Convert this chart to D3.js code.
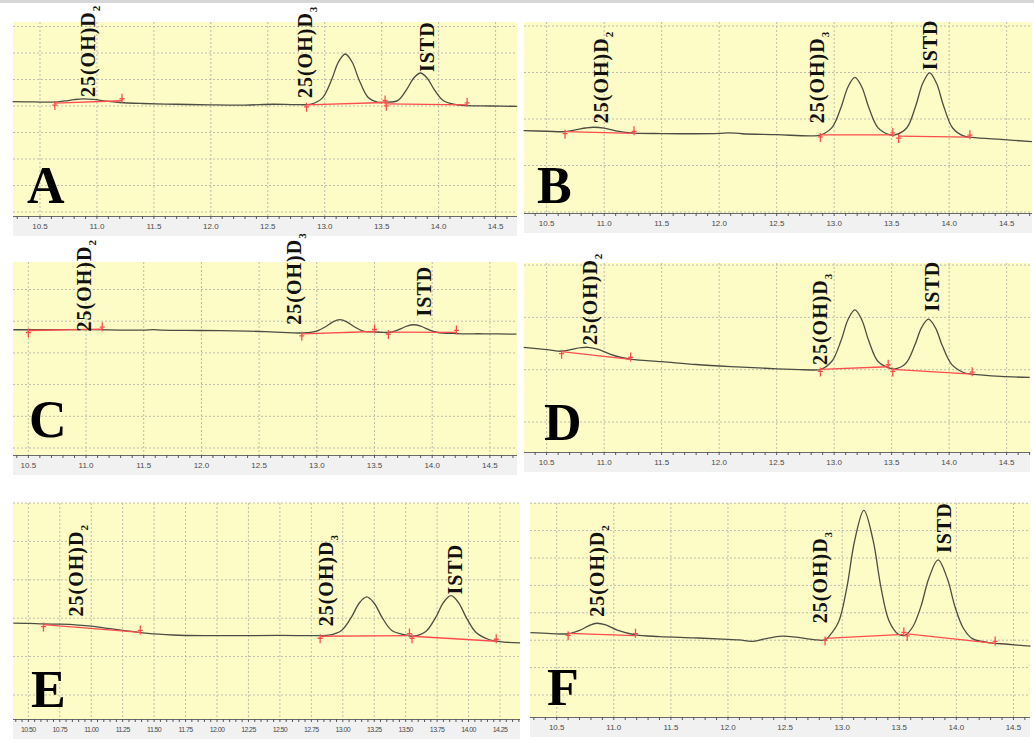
<!DOCTYPE html>
<html>
<head>
<meta charset="utf-8">
<script src="https://cdn.jsdelivr.net/npm/d3@7"></script>
<style>
  body { margin: 0; background: #fff; }
  svg { display: block; }
</style>
</head>
<body>
<figure style="margin:0"></figure>
<script>
// chromatogram traces: [retention time (min), signal in % of panel height]
const traceA = [
  [10.26, 59.0], [10.45, 58.8], [10.62, 58.7], [10.72, 59.3], [10.80, 60.0], [10.88, 60.4],
  [10.97, 60.1], [11.08, 59.2], [11.20, 58.5], [11.40, 58.0], [11.70, 57.6], [12.00, 57.3],
  [12.30, 57.2], [12.55, 57.6], [12.75, 57.4], [12.88, 57.7], [12.98, 60.9], [13.06, 70.2],
  [13.12, 79.3], [13.18, 83.5], [13.24, 79.4], [13.30, 70.4], [13.38, 61.2], [13.47, 58.6],
  [13.53, 58.7], [13.64, 59.5], [13.72, 65.3], [13.78, 71.0], [13.84, 73.7], [13.90, 71.0],
  [13.96, 65.3], [14.04, 59.5], [14.14, 57.5], [14.25, 56.9], [14.45, 56.7], [14.69, 56.5]
];
const traceB = [
  [10.30, 43.1], [10.50, 42.8], [10.66, 42.6], [10.76, 43.6], [10.84, 44.5], [10.91, 44.9],
  [11.00, 44.4], [11.10, 43.0], [11.27, 41.8], [11.50, 41.6], [11.80, 41.5], [12.00, 41.7],
  [12.08, 42.0], [12.20, 41.5], [12.50, 41.0], [12.80, 40.4], [12.88, 40.8], [12.98, 44.7],
  [13.06, 55.4], [13.12, 66.0], [13.18, 71.0], [13.24, 66.0], [13.30, 55.4], [13.38, 44.7],
  [13.48, 41.0], [13.53, 40.9], [13.63, 44.5], [13.71, 56.3], [13.77, 67.9], [13.83, 73.4],
  [13.89, 67.9], [13.95, 56.3], [14.03, 44.5], [14.13, 40.2], [14.20, 39.6], [14.45, 38.5],
  [14.72, 37.4]
];
const traceC = [
  [10.37, 64.9], [10.60, 64.9], [10.90, 65.0], [11.20, 64.8], [11.50, 64.7], [11.58, 65.0],
  [11.66, 64.7], [12.00, 64.5], [12.40, 64.2], [12.60, 63.8], [12.85, 63.2], [12.92, 63.4],
  [13.00, 64.2], [13.08, 66.6], [13.14, 69.0], [13.20, 70.1], [13.26, 69.0], [13.32, 66.6],
  [13.40, 64.2], [13.49, 63.8], [13.58, 63.5], [13.64, 63.6], [13.72, 65.2], [13.78, 66.8],
  [13.84, 67.5], [13.90, 66.8], [13.96, 65.2], [14.04, 63.6], [14.21, 62.9], [14.45, 62.8],
  [14.73, 62.6]
];
const traceD = [
  [10.30, 55.4], [10.50, 54.2], [10.63, 53.3], [10.72, 54.3], [10.80, 55.2], [10.86, 55.4],
  [10.95, 54.3], [11.05, 51.8], [11.15, 50.0], [11.24, 49.0], [11.50, 47.8], [11.80, 46.3],
  [12.10, 45.2], [12.40, 44.3], [12.70, 43.6], [12.85, 43.4], [12.88, 43.6], [12.98, 48.0],
  [13.06, 59.0], [13.12, 70.0], [13.18, 75.2], [13.24, 70.0], [13.30, 59.0], [13.38, 48.0],
  [13.49, 44.2], [13.52, 43.9], [13.62, 46.7], [13.70, 56.3], [13.76, 65.8], [13.82, 70.3],
  [13.88, 65.8], [13.94, 56.3], [14.02, 46.5], [14.12, 42.2], [14.20, 41.2], [14.45, 40.0],
  [14.70, 39.5]
];
const traceE = [
  [10.38, 44.4], [10.50, 44.3], [10.62, 44.0], [10.75, 43.9], [10.90, 43.5], [11.00, 43.0],
  [11.15, 41.8], [11.30, 40.7], [11.45, 39.6], [11.65, 38.9], [11.90, 38.6], [12.20, 38.6],
  [12.50, 38.7], [12.80, 38.6], [12.89, 38.8], [12.99, 41.0], [13.07, 47.3], [13.13, 53.6],
  [13.19, 56.5], [13.25, 53.6], [13.31, 47.3], [13.39, 41.0], [13.52, 38.7], [13.56, 38.3],
  [13.66, 40.5], [13.74, 47.2], [13.80, 53.9], [13.86, 57.1], [13.92, 53.9], [13.98, 47.2],
  [14.06, 40.0], [14.16, 36.8], [14.25, 35.8], [14.41, 35.2]
];
const traceF = [
  [10.27, 39.4], [10.45, 39.0], [10.60, 38.9], [10.70, 40.5], [10.78, 42.6], [10.85, 43.8],
  [10.93, 43.0], [11.03, 40.6], [11.19, 38.4], [11.40, 37.6], [11.70, 37.0], [11.95, 36.4],
  [12.10, 36.0], [12.21, 35.3], [12.32, 36.5], [12.47, 37.8], [12.60, 37.3], [12.75, 36.2],
  [12.85, 36.0], [12.89, 38.0], [12.97, 44.6], [13.04, 60.2], [13.11, 82.6], [13.19, 96.6],
  [13.27, 82.8], [13.34, 60.5], [13.41, 45.0], [13.49, 38.8], [13.55, 38.2], [13.62, 42.3],
  [13.69, 51.7], [13.76, 65.0], [13.84, 73.4], [13.92, 64.8], [13.99, 51.2], [14.06, 41.6],
  [14.14, 36.6], [14.28, 34.8], [14.45, 34.0], [14.65, 33.1]
];

// integration baselines: [t start, signal start, t end, signal end]
const integA = [[10.63, 58.2, 11.22, 59.4], [12.84, 57.3, 13.53, 58.5], [13.54, 57.8, 14.25, 57.3]];
const integB = [[10.66, 42.6, 11.26, 41.7], [12.88, 40.9, 13.51, 40.9], [13.56, 40.3, 14.18, 39.7]];
const integC = [[10.50, 64.5, 11.14, 65.2], [12.87, 62.8, 13.50, 64.0], [13.62, 63.7, 14.21, 63.5]];
const integD = [[10.63, 53.1, 11.23, 49.0], [12.88, 43.7, 13.47, 45.1], [13.51, 43.7, 14.20, 41.2]];
const integE = [[10.62, 43.7, 11.39, 40.1], [12.82, 38.3, 13.53, 38.6], [13.55, 38.3, 14.22, 36.0]];
const integF = [[10.60, 39.1, 11.19, 38.0], [12.85, 36.7, 13.54, 38.6], [13.57, 38.8, 14.34, 34.4]];

// peak labels: names and where each label starts [t, signal]
const compounds = [["25(OH)D", "2"], ["25(OH)D", "3"], ["ISTD", ""]];
const labelsA = [[10.92, 61.3], [12.83, 60.8], [13.90, 74.2]];
const labelsB = [[10.97, 47.0], [12.85, 47.0], [13.83, 74.8]];
const labelsC = [[10.98, 64.0], [12.80, 67.5], [13.93, 71.8]];
const labelsD = [[10.88, 56.6], [12.88, 46.0], [13.85, 74.3]];
const labelsE = [[10.88, 47.5], [12.87, 42.9], [13.89, 57.6]];
const labelsF = [[10.85, 46.9], [12.81, 43.8], [13.89, 76.6]];

// time axis tick labels
const ticksHalf = [10.5, 11.0, 11.5, 12.0, 12.5, 13.0, 13.5, 14.0, 14.5];
const ticksQuarter = [10.50, 10.75, 11.00, 11.25, 11.50, 11.75, 12.00, 12.25, 12.50,
  12.75, 13.00, 13.25, 13.50, 13.75, 14.00, 14.25];

const panels = [
  { letter: "A", trace: traceA, integ: integA, labels: labelsA, ticks: ticksHalf, fmt: ".1f", minor: 0.1,
    x0: 13, x1: 517, t0: 10.263, t1: 14.688, top: 22, bottom: 216, gridFirst: 212, gridStep: 26.5, lx: 14, ly: -13 },
  { letter: "B", trace: traceB, integ: integB, labels: labelsB, ticks: ticksHalf, fmt: ".1f", minor: 0.1,
    x0: 524, x1: 1032, t0: 10.303, t1: 14.72, top: 22, bottom: 213, gridFirst: 212, gridStep: 46.5, lx: 13, ly: -10 },
  { letter: "C", trace: traceC, integ: integC, labels: labelsC, ticks: ticksHalf, fmt: ".1f", minor: 0.1,
    x0: 13, x1: 517, t0: 10.367, t1: 14.735, top: 262, bottom: 455, gridFirst: 448, gridStep: 31.7, lx: 16, ly: -18 },
  { letter: "D", trace: traceD, integ: integD, labels: labelsD, ticks: ticksHalf, fmt: ".1f", minor: 0.1,
    x0: 524, x1: 1030, t0: 10.303, t1: 14.703, top: 263, bottom: 452, gridFirst: 422, gridStep: 52.3, lx: 20, ly: -12 },
  { letter: "E", trace: traceE, integ: integE, labels: labelsE, ticks: ticksQuarter, fmt: ".2f", minor: 0.05,
    x0: 13, x1: 520, t0: 10.378, t1: 14.409, top: 503, bottom: 719, gridFirst: 695, gridStep: 38.4, lx: 18, ly: -12 },
  { letter: "F", trace: traceF, integ: integF, labels: labelsF, ticks: ticksHalf, fmt: ".1f", minor: 0.1,
    x0: 530, x1: 1030, t0: 10.266, t1: 14.645, top: 503, bottom: 717, gridFirst: 695, gridStep: 27.4, lx: 17, ly: -12 }
];

const width = 1034, height = 742;
const svg = d3.select("figure").append("svg").attr("width", width).attr("height", height);

svg.append("rect").attr("width", width).attr("height", height).attr("fill", "#fff");
svg.append("rect").attr("width", width).attr("height", 3).attr("fill", "#d4d6d8");

const labelLayer = [];

panels.forEach(p => {
  const x = d3.scaleLinear().domain([p.t0, p.t1]).range([p.x0, p.x1]);
  const y = d3.scaleLinear().domain([0, 100]).range([p.bottom, p.top]);
  const g = svg.append("g");

  g.append("rect")
    .attr("x", p.x0).attr("y", p.top)
    .attr("width", p.x1 - p.x0).attr("height", p.bottom - p.top)
    .attr("fill", "#fdfcc6");

  // dotted grid
  const hLines = d3.range(p.gridFirst, p.top - 1, -p.gridStep);
  g.selectAll(".hgrid").data(hLines).enter().append("line")
    .attr("x1", p.x0).attr("x2", p.x1)
    .attr("y1", d => d).attr("y2", d => d)
    .attr("stroke", "#bdbdb0").attr("stroke-width", 1).attr("stroke-dasharray", "2,2");
  g.selectAll(".vgrid").data(p.ticks).enter().append("line")
    .attr("x1", d => x(d)).attr("x2", d => x(d))
    .attr("y1", p.top).attr("y2", p.bottom)
    .attr("stroke", "#bdbdb0").attr("stroke-width", 1).attr("stroke-dasharray", "2,2");

  // axis band
  g.append("rect")
    .attr("x", p.x0).attr("y", p.bottom)
    .attr("width", p.x1 - p.x0).attr("height", 20)
    .attr("fill", "#f1f1f1");
  g.append("line")
    .attr("x1", p.x0).attr("x2", p.x1)
    .attr("y1", p.bottom + 0.5).attr("y2", p.bottom + 0.5)
    .attr("stroke", "#6a6a6a");
  const minorTicks = d3.range(Math.ceil(p.t0 / p.minor) * p.minor, p.t1, p.minor);
  g.selectAll(".mtick").data(minorTicks).enter().append("line")
    .attr("x1", d => x(d)).attr("x2", d => x(d))
    .attr("y1", p.bottom).attr("y2", p.bottom + 3)
    .attr("stroke", "#555");
  g.selectAll(".tlabel").data(p.ticks).enter().append("text")
    .attr("x", d => x(d)).attr("y", p.bottom + 13)
    .attr("text-anchor", "middle")
    .attr("font-family", "Liberation Sans, Arial, sans-serif")
    .attr("font-size", p.fmt === ".2f" ? 7 : 8)
    .attr("letter-spacing", p.fmt === ".2f" ? -0.6 : 0)
    .attr("fill", "#4a4a4a")
    .text(d => d3.format(p.fmt)(d));

  // chromatogram
  const line = d3.line()
    .x(d => x(d[0])).y(d => y(d[1]))
    .curve(d3.curveCatmullRom.alpha(0.5));
  g.append("path")
    .datum(p.trace)
    .attr("d", line)
    .attr("fill", "none")
    .attr("stroke", "#4d4d44")
    .attr("stroke-width", 1.3);

  // integration baselines and markers
  g.selectAll(".integ").data(p.integ).enter().append("line")
    .attr("x1", d => x(d[0])).attr("y1", d => y(d[1]))
    .attr("x2", d => x(d[2])).attr("y2", d => y(d[3]))
    .attr("stroke", "#ff4d4d").attr("stroke-width", 1.3);
  p.integ.forEach(d => {
    const sx = x(d[0]), sy = y(d[1]), ex = x(d[2]), ey = y(d[3]);
    g.append("path")
      .attr("d", `M${sx},${sy - 2}L${sx},${sy + 7}M${sx - 2.5},${sy + 2}L${sx + 2.5},${sy + 2}`)
      .attr("stroke", "#ff4d4d").attr("stroke-width", 1.3).attr("fill", "none");
    g.append("path")
      .attr("d", `M${ex},${ey + 2}L${ex},${ey - 7}M${ex - 2.5},${ey - 2}L${ex + 2.5},${ey - 2}`)
      .attr("stroke", "#ff4d4d").attr("stroke-width", 1.3).attr("fill", "none");
  });

  // panel letter
  g.append("text")
    .attr("x", p.x0 + p.lx).attr("y", p.bottom + p.ly)
    .attr("font-family", "Liberation Serif, Times New Roman, serif")
    .attr("font-weight", "bold")
    .attr("font-size", 52)
    .attr("fill", "#000")
    .text(p.letter);

  p.labels.forEach((d, i) => labelLayer.push({ x: x(d[0]), y: y(d[1]), name: compounds[i] }));
});

// peak labels on top of everything
labelLayer.forEach(d => {
  const t = svg.append("text")
    .attr("transform", `translate(${d.x},${d.y}) rotate(-90)`)
    .attr("dy", "0.35em")
    .attr("font-family", "Liberation Serif, Times New Roman, serif")
    .attr("font-weight", "bold")
    .attr("font-size", 20)
    .attr("letter-spacing", 1)
    .attr("fill", "#111");
  t.append("tspan").text(d.name[0]);
  if (d.name[1]) {
    t.append("tspan").attr("font-size", 11).attr("dy", 5).text(d.name[1]);
  }
});
</script>
</body>
</html>
